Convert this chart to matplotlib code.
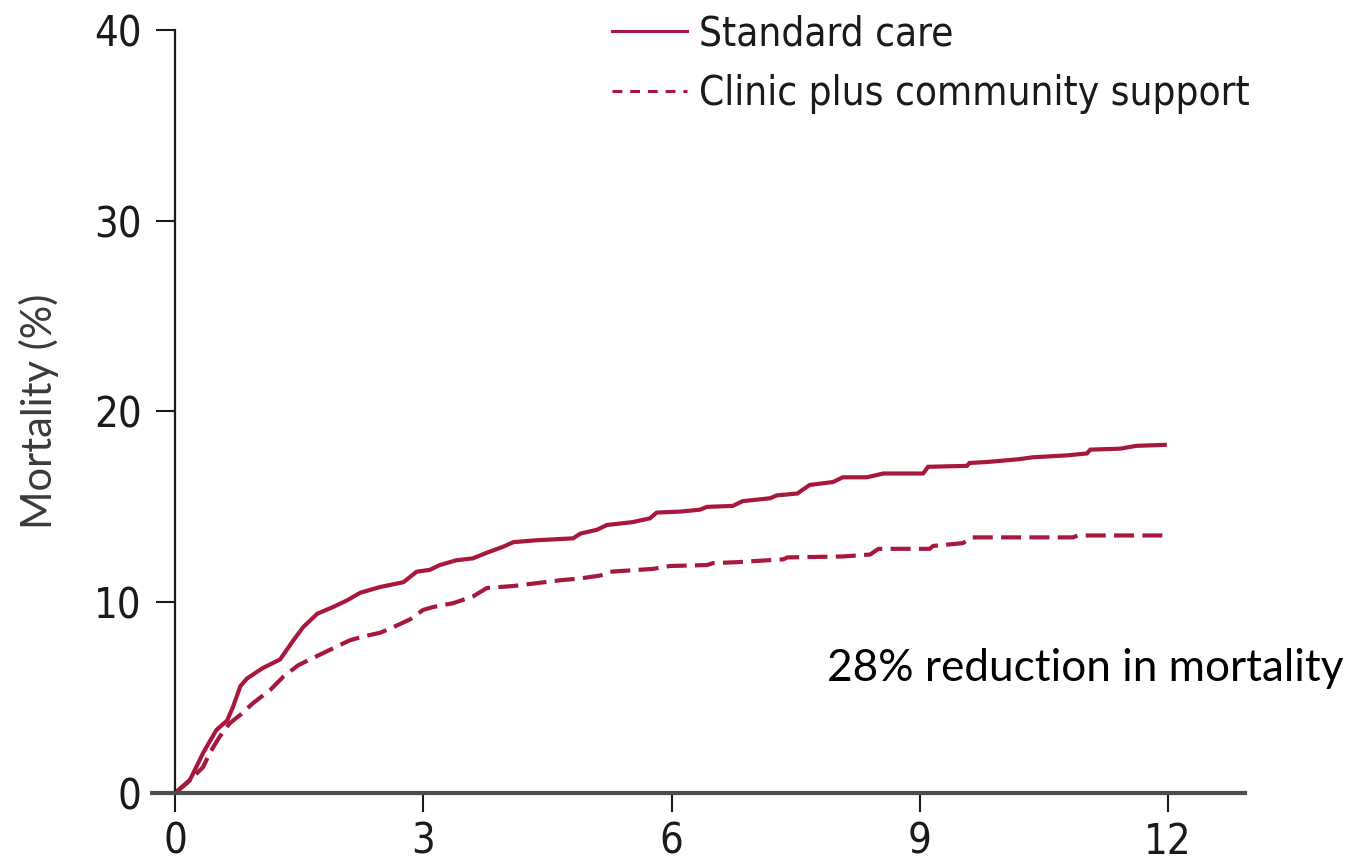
import numpy as np
import matplotlib
matplotlib.use("Agg")
import matplotlib.pyplot as plt
from matplotlib.lines import Line2D
from matplotlib import font_manager

# ---------------- data: cumulative mortality (%) by month ----------------
months_std = [0, 0.18, 0.34, 0.5, 0.63, 0.7, 0.79, 0.87, 1.06, 1.27, 1.35, 1.43,
              1.55, 1.72, 1.91, 2.08, 2.24, 2.48, 2.76, 2.92, 3.08, 3.2, 3.4,
              3.6, 3.77, 3.96, 4.09, 4.37, 4.81, 4.9, 5.1, 5.22, 5.53, 5.74,
              5.82, 6.1, 6.34, 6.43, 6.74, 6.86, 7.19, 7.27, 7.52, 7.67, 7.95,
              8.07, 8.36, 8.56, 9.04, 9.1, 9.57, 9.6, 9.81, 10.2, 10.37, 10.78,
              11.02, 11.06, 11.42, 11.62, 11.96]
mort_std = [0, 0.68, 2.1, 3.3, 3.8, 4.5, 5.6, 6.0, 6.55, 7.0, 7.5, 8.0,
            8.7, 9.4, 9.75, 10.1, 10.5, 10.8, 11.05, 11.6, 11.7, 11.95, 12.2,
            12.3, 12.6, 12.9, 13.15, 13.25, 13.35, 13.6, 13.8, 14.05, 14.2, 14.4,
            14.7, 14.75, 14.85, 15.0, 15.05, 15.3, 15.45, 15.6, 15.7, 16.15, 16.3,
            16.55, 16.55, 16.75, 16.75, 17.1, 17.15, 17.3, 17.35, 17.5, 17.6, 17.7,
            17.8, 18.0, 18.05, 18.2, 18.25]

months_cps = [0, 0.14, 0.34, 0.42, 0.54, 0.66, 0.79, 0.94, 1.15, 1.31, 1.49,
              1.63, 1.87, 2.11, 2.27, 2.48, 2.64, 2.84, 3.0, 3.12, 3.36, 3.6,
              3.77, 4.09, 4.65, 4.9, 5.14, 5.26, 5.78, 5.98, 6.43, 6.5, 6.79,
              7.35, 7.4, 8.07, 8.4, 8.5, 9.12, 9.16, 9.52, 9.63, 10.85, 10.91, 11.96]
mort_cps = [0, 0.5, 1.36, 2.1, 2.95, 3.65, 4.1, 4.7, 5.4, 6.1, 6.7,
            7.0, 7.5, 8.0, 8.2, 8.4, 8.7, 9.1, 9.6, 9.75, 9.95, 10.3,
            10.75, 10.85, 11.15, 11.25, 11.4, 11.6, 11.75, 11.9, 11.95, 12.05, 12.1,
            12.25, 12.35, 12.4, 12.5, 12.8, 12.8, 12.95, 13.1, 13.4, 13.4, 13.5, 13.5]

xticks = [0, 3, 6, 9, 12]
yticks = [0, 10, 20, 30, 40]
labels = ["Standard care", "Clinic plus community support"]
note = "28% reduction in mortality"

# ---------------- style ----------------
red = "#A8183C"
narrow = font_manager.FontProperties(family=["DejaVu Sans"], stretch="condensed",
                                     size=30)
leg_font = font_manager.FontProperties(family=["DejaVu Sans"], stretch="condensed",
                                       size=29)
body = ["Lato", "DejaVu Sans"]

fig = plt.figure(figsize=(13.53, 8.66), dpi=100)
ax = fig.add_axes([0.1122, 0.0843, 0.808, 0.8811])

ax.plot(months_std, mort_std, color=red, lw=3.0, solid_joinstyle="miter")
ax.plot(months_cps, mort_cps, color=red, lw=3.0, dashes=(4.8, 2.0))

ax.set_xlim(-0.28, 12.93)
ax.set_ylim(0, 40)
ax.spines["left"].set_position(("data", 0))
ax.spines["left"].set_linewidth(1.6)
ax.spines["left"].set_color("#1a1a1a")
ax.spines["bottom"].set_linewidth(3.0)
ax.spines["bottom"].set_color("#4d4d4d")
ax.spines["top"].set_visible(False)
ax.spines["right"].set_visible(False)
ax.spines["left"].set_bounds(0, 40)

ax.set_xticks(xticks)
ax.set_yticks(yticks)
ax.tick_params(axis="both", length=14, width=1.5, color="#1a1a1a",
               labelcolor="#1a1a1a")
ax.tick_params(axis="y", pad=10)
ax.tick_params(axis="x", pad=6)
for lab in ax.get_xticklabels() + ax.get_yticklabels():
    lab.set_fontproperties(narrow)

ax.set_ylabel("Mortality (%)", family=body, fontsize=30, color="#3a3a3a")
ax.yaxis.set_label_coords(-0.085, 0.5)

handles = [Line2D([], [], color=red, lw=2.2),
           Line2D([], [], color=red, lw=2.2, dashes=(3.2, 2.6))]
leg = fig.legend(handles, labels, loc="upper left",
                 bbox_to_anchor=(612 / 1353, 1 - 14 / 866),
                 frameon=False, borderpad=0, borderaxespad=0,
                 handlelength=1.85, handletextpad=0.3,
                 labelspacing=0.5, prop=leg_font)
for t in leg.get_texts():
    t.set_color("#1a1a1a")

fig.text(0.6115, 0.228, note, family=body, fontsize=31.8, color="black",
         va="center", ha="left")

fig.savefig("out.png", dpi=100)
